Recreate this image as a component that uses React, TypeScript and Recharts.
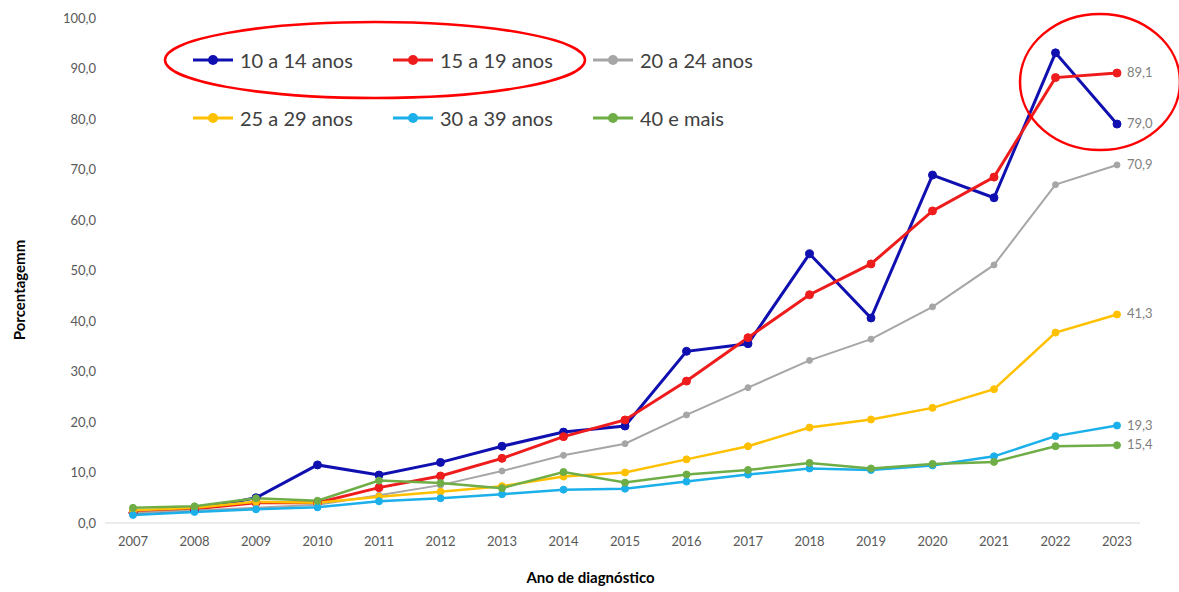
import { LineChart, Line, XAxis, YAxis, Legend, LabelList } from "recharts";

const years = ["2007", "2008", "2009", "2010", "2011", "2012", "2013", "2014", "2015", "2016", "2017", "2018", "2019", "2020", "2021", "2022", "2023"];

const s10a14 = [2.0, 2.6, 5.0, 11.5, 9.5, 12.0, 15.2, 18.0, 19.2, 34.0, 35.5, 53.3, 40.6, 68.9, 64.4, 93.1, 79.0];
const s15a19 = [2.0, 2.8, 4.0, 4.0, 7.0, 9.3, 12.8, 17.1, 20.4, 28.1, 36.7, 45.2, 51.3, 61.8, 68.5, 88.2, 89.1];
const s20a24 = [2.0, 2.5, 3.0, 3.6, 5.5, 7.5, 10.3, 13.4, 15.7, 21.4, 26.8, 32.2, 36.4, 42.8, 51.1, 67.0, 70.9];
const s25a29 = [2.5, 3.0, 4.2, 4.0, 5.2, 6.2, 7.3, 9.2, 10.0, 12.6, 15.2, 18.9, 20.5, 22.8, 26.5, 37.7, 41.3];
const s30a39 = [1.6, 2.2, 2.7, 3.1, 4.3, 4.9, 5.7, 6.6, 6.8, 8.2, 9.6, 10.8, 10.5, 11.4, 13.2, 17.2, 19.3];
const s40mais = [3.0, 3.3, 4.9, 4.4, 8.4, 7.9, 6.9, 10.1, 8.0, 9.6, 10.5, 11.9, 10.8, 11.7, 12.1, 15.2, 15.4];

const yTicks = [0, 10, 20, 30, 40, 50, 60, 70, 80, 90, 100];

const series = [
	{ key: "a", name: "10 a 14 anos", values: s10a14, color: "#1010b0", width: 3, r: 4 },
	{ key: "b", name: "15 a 19 anos", values: s15a19, color: "#ee1c1c", width: 3, r: 4 },
	{ key: "c", name: "20 a 24 anos", values: s20a24, color: "#a6a6a6", width: 2, r: 3 },
	{ key: "d", name: "25 a 29 anos", values: s25a29, color: "#ffc000", width: 2.5, r: 3.5 },
	{ key: "e", name: "30 a 39 anos", values: s30a39, color: "#1cb0ea", width: 2.5, r: 3.5 },
	{ key: "f", name: "40 e mais", values: s40mais, color: "#6fad47", width: 2.5, r: 3.5 },
];

const data = years.map((year, i) => {
	const row: Record<string, string | number> = { year };
	series.forEach((s) => {
		row[s.key] = s.values[i];
	});
	return row;
});

const fmt = (v: number) => v.toFixed(1).replace(".", ",");
const FONT = "Lato, 'Open Sans', sans-serif";

const LegendContent = () => (
	<div
		style={{
			display: "grid",
			gridTemplateColumns: "200px 200px 200px",
			rowGap: 22,
			fontFamily: FONT,
			fontSize: 20,
			color: "#404040",
		}}
	>
		{series.map((s) => (
			<div key={s.key} style={{ display: "flex", alignItems: "center", height: 36 }}>
				<svg width={47} height={12}>
					<line x1={0} y1={6} x2={40} y2={6} stroke={s.color} strokeWidth={3} />
					<circle cx={20} cy={6} r={5} fill={s.color} />
				</svg>
				<span>{s.name}</span>
			</div>
		))}
	</div>
);

const endLabel = () => (props: any) => {
	const { x, y, value, index } = props;
	if (index !== years.length - 1) return null;
	return (
		<text x={x + 10} y={y} dy={4} fontSize={13} fill="#7f7f7f" fontFamily={FONT}>
			{fmt(value)}
		</text>
	);
};

export default function App() {
	return (
		<div style={{ position: "absolute", left: 0, top: 0, width: 1179, height: 592, background: "#fff" }}>
			<LineChart width={1179} height={592} data={data} margin={{ top: 18, right: 39, bottom: 4, left: 10 }}>
				<XAxis
					dataKey="year"
					padding={{ left: 28, right: 23 }}
					height={65}
					tickLine={false}
					axisLine={{ stroke: "#d9d9d9" }}
					tick={{ fontSize: 13, fill: "#595959", fontFamily: FONT }}
					tickMargin={8}
					label={{
						content: (p: any) => (
							<text
								x={p.viewBox.x + p.viewBox.width / 2 - 32}
								y={p.viewBox.y + 60}
								textAnchor="middle"
								fontSize={15}
								fontWeight="bold"
								fill="#000"
								fontFamily={FONT}
							>
								Ano de diagnóstico
							</text>
						),
					}}
				/>
				<YAxis
					domain={[0, 100]}
					ticks={yTicks}
					width={95}
					tickLine={false}
					axisLine={false}
					tickFormatter={fmt}
					tick={{ fontSize: 13, fill: "#595959", fontFamily: FONT }}
					tickMargin={3}
					label={{
						content: (p: any) => (
							<text
								x={20}
								y={p.viewBox.y + 272}
								transform={`rotate(-90 20 ${p.viewBox.y + 272})`}
								textAnchor="middle"
								dy={5}
								fontSize={15}
								fontWeight="bold"
								fill="#000"
								fontFamily={FONT}
							>
								Porcentagemm
							</text>
						),
					}}
				/>
				<Legend
					layout="horizontal"
					verticalAlign="middle"
					align="center"
					content={<LegendContent />}
					wrapperStyle={{ top: 42, left: 193, width: 620 }}
				/>
				{series.map((s) => (
					<Line
						key={s.key}
						dataKey={s.key}
						name={s.name}
						stroke={s.color}
						strokeWidth={s.width}
						dot={{ r: s.r, fill: s.color, stroke: s.color, strokeWidth: 1 }}
						activeDot={false}
						isAnimationActive={false}
					>
						<LabelList dataKey={s.key} content={endLabel()} />
					</Line>
				))}
			</LineChart>
			<svg width={1179} height={592} style={{ position: "absolute", left: 0, top: 0, pointerEvents: "none" }}>
				<ellipse cx={375} cy={60} rx={210} ry={38} fill="none" stroke="#ff0000" strokeWidth={2.5} />
				<ellipse cx={1100} cy={82} rx={80} ry={68} fill="none" stroke="#ff0000" strokeWidth={2.5} />
			</svg>
		</div>
	);
}
